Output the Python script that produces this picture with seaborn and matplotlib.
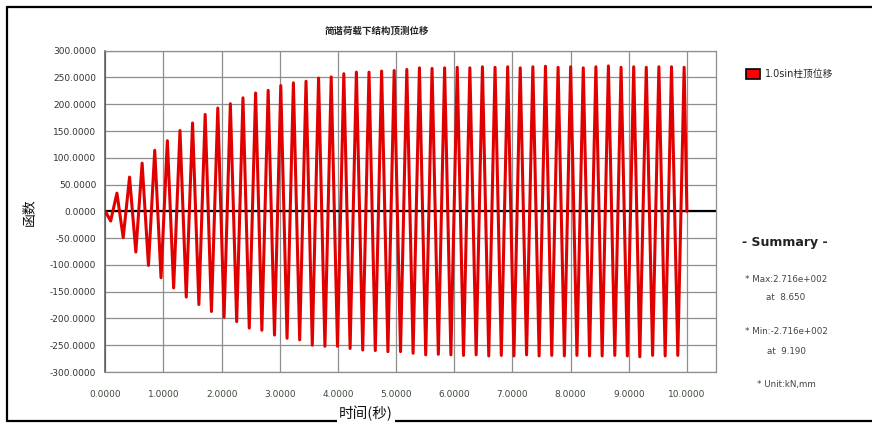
import numpy as np
import pandas as pd
import matplotlib
matplotlib.use("Agg")
import matplotlib.pyplot as plt
import seaborn as sns
from matplotlib.patches import Patch
from matplotlib.lines import Line2D

# ---------------- data ----------------
title = "简谐荷载下结构顶测位移"
series_name = "1.0sin柱顶位移"
x_label = "时间(秒)"
y_label = "函数"
x_ticks = [0, 1, 2, 3, 4, 5, 6, 7, 8, 9, 10]
y_ticks = [-300, -250, -200, -150, -100, -50, 0, 50, 100, 150, 200, 250, 300]
summary_lines = ["* Max:2.716e+002", "at  8.650", "* Min:-2.716e+002", "at  9.190", "* Unit:kN,mm"]

start_point = (0.0, 0.0)
end_point = (10.0, 0.0)

peak_times = [0.200, 0.417, 0.633, 0.850, 1.067, 1.284, 1.500, 1.717, 1.934, 2.150,
              2.367, 2.584, 2.800, 3.017, 3.234, 3.451, 3.667, 3.884, 4.101, 4.317,
              4.534, 4.751, 4.967, 5.184, 5.401, 5.618, 5.834, 6.051, 6.268, 6.484,
              6.701, 6.918, 7.134, 7.351, 7.568, 7.785, 8.001, 8.218, 8.435, 8.650,
              8.868, 9.085, 9.301, 9.518, 9.735, 9.952]
peak_values = [34, 64, 90, 114, 132, 151, 165, 181, 193, 201,
               212, 221, 226, 235, 240, 243, 249, 251, 257, 260,
               260, 262, 263, 265, 268, 267, 268, 269, 268, 270,
               269, 270, 268, 270, 271, 269, 270, 268, 270, 271.6,
               269, 270, 269, 270, 270, 269]

trough_times = [0.092, 0.308, 0.525, 0.742, 0.958, 1.175, 1.392, 1.609, 1.825, 2.042,
                2.259, 2.475, 2.692, 2.909, 3.125, 3.342, 3.559, 3.776, 3.992, 4.209,
                4.426, 4.642, 4.859, 5.076, 5.292, 5.509, 5.726, 5.942, 6.159, 6.376,
                6.593, 6.809, 7.026, 7.243, 7.459, 7.676, 7.893, 8.109, 8.326, 8.543,
                8.760, 8.976, 9.190, 9.410, 9.626, 9.843]
trough_values = [-18, -49, -76, -101, -124, -143, -160, -174, -187, -198,
                 -206, -218, -222, -231, -237, -240, -250, -252, -252, -256,
                 -259, -260, -262, -262, -265, -268, -267, -268, -269, -268,
                 -270, -269, -270, -268, -270, -269, -270, -269, -270, -270,
                 -269, -270, -271.6, -269, -270, -269]

# ---------------- assemble ----------------
t_all = [start_point[0]] + peak_times + trough_times + [end_point[0]]
v_all = [start_point[1]] + peak_values + trough_values + [end_point[1]]
df = pd.DataFrame({"t": t_all, "v": v_all}).sort_values("t").reset_index(drop=True)

sns.set_style("white")
plt.rcParams["font.family"] = ["DejaVu Sans", "Noto Sans CJK SC"]

W, H = 872, 425
fig = plt.figure(figsize=(W / 100, H / 100), dpi=100)
fig.patch.set_facecolor("white")

ax = fig.add_axes([105.3 / W, 1 - 372 / H, (716 - 105.3) / W, (372 - 50.7) / H])
ax.set_facecolor("white")

ax.axhline(0, color="black", lw=1.6, zorder=2)
sns.lineplot(data=df, x="t", y="v", color="#e00000", lw=2.2, estimator=None,
             sort=True, ax=ax, zorder=3)
for ln in ax.lines:
    ln.set_solid_joinstyle("round")

ax.set_xlim(0, 10.5)
ax.set_ylim(-300, 300)
ax.set_xticks(x_ticks)
ax.set_yticks(y_ticks)
ax.set_xticklabels([f"{v:.4f}" for v in x_ticks], fontsize=6.5, color="#3c4a3c")
ax.set_yticklabels([f"{v:.4f}" for v in y_ticks], fontsize=6.5, color="#333333")
ax.grid(True, color="#8e8e8e", lw=0.9, zorder=1)
ax.set_axisbelow(True)
ax.tick_params(axis="x", length=8, width=1, color="#555555", pad=5, direction="out")
ax.tick_params(axis="y", length=6, width=1, color="#555555", pad=0.5, direction="out")
for side, sp in ax.spines.items():
    sp.set_color("#8e8e8e")
    sp.set_linewidth(0.9)
ax.spines["left"].set_color("#555555")
ax.spines["left"].set_linewidth(1.1)
ax.set_xlabel("")
ax.set_ylabel("")

# outer frame
frame = [((7 / W, 1 - 7 / H), (1.0, 1 - 7 / H)),
         ((7 / W, 1 - 7 / H), (7 / W, 1 - 421 / H)),
         ((7 / W, 1 - 421 / H), (1.0, 1 - 421 / H))]
for (x0, y0), (x1, y1) in frame:
    fig.add_artist(Line2D([x0, x1], [y0, y1], transform=fig.transFigure,
                          color="black", lw=1.6))

# titles / labels
fig.text(377 / W, 1 - 31 / H, title, ha="center", va="center", fontsize=6.8,
         fontweight="bold", color="#222222", family=["Noto Sans CJK SC", "DejaVu Sans"])
fig.text(366 / W, 1 - 413 / H, x_label, ha="center", va="center", fontsize=10.5,
         color="#111111", family=["Noto Sans CJK SC", "DejaVu Sans"],
         bbox=dict(facecolor="white", edgecolor="none", pad=1.5), zorder=5)
fig.text(30 / W, 1 - 212 / H, y_label, ha="center", va="center", fontsize=10,
         rotation=90, color="#111111", family=["Noto Sans CJK SC", "DejaVu Sans"])

# legend
handle = Patch(facecolor="#ff0000", edgecolor="black", lw=1.2, label=series_name)
fig.legend(handles=[handle], loc="center left",
           bbox_to_anchor=(746 / W, 1 - 74 / H), frameon=False, fontsize=7,
           handlelength=1.45, handleheight=1.35, handletextpad=0.55,
           borderpad=0, borderaxespad=0,
           prop={"family": ["DejaVu Sans", "Noto Sans CJK SC"], "size": 7})

# summary
fig.text(785 / W, 1 - 242 / H, "- Summary -", ha="center", va="center",
         fontsize=9, fontweight="bold", color="#222222")
ys = [280, 297, 332, 351, 385]
for s, yy in zip(summary_lines, ys):
    fig.text(786 / W, 1 - yy / H, s, ha="center", va="center", fontsize=6.3,
             color="#444444")

fig.savefig("out.png", dpi=100, facecolor="white")
